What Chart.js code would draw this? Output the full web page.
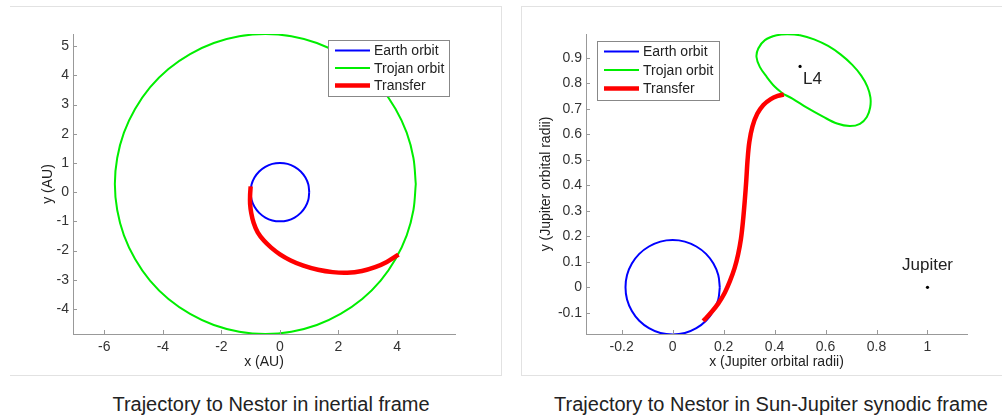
<!DOCTYPE html>
<html lang="en">
<head>
  <meta charset="UTF-8">
  <title>Trajectory to Nestor</title>
  <script src="https://cdn.jsdelivr.net/npm/chart.js"></script>
  <style>
    body {
      margin: 0;
      background: #ffffff;
      font-family: 'Liberation Sans', Arial, sans-serif;
      width: 1002px;
      height: 416px;
      overflow: hidden;
      position: relative;
    }
    .panel {
      position: absolute;
      top: 6px;
      height: 368px;
      border: 1px solid #e2e2e2;
    }
    #leftPanel { left: 10px; width: 491px; border-left: none; }
    #rightPanel { left: 521px; width: 500px; border-right: none; }
    canvas { position: absolute; top: 0; }
    #inertial { left: 0; }
    #synodic { left: 502px; }
    .caption {
      position: absolute;
      top: 392px;
      font-size: 20px;
      line-height: 24px;
      color: #222;
      text-align: center;
      white-space: nowrap;
    }
  </style>
</head>
<body>

<div class="panel" id="leftPanel"></div>
<div class="panel" id="rightPanel"></div>

<canvas id="inertial" width="500" height="376"></canvas>
<canvas id="synodic" width="500" height="376"></canvas>

<div class="caption" style="left:71px; width:400px;">Trajectory to Nestor in inertial frame</div>
<div class="caption" style="left:521px; width:500px;">Trajectory to Nestor in Sun-Jupiter synodic frame</div>

<script>
  // ---- data: inertial frame (AU) ----
  const seriesNames = ['Earth orbit', 'Trojan orbit', 'Transfer'];

  const earthInertial = [
    [1, 0], [0.97, 0.26], [0.87, 0.5], [0.71, 0.71], [0.5, 0.87], [0.26, 0.97], [0, 1],
    [-0.26, 0.97], [-0.5, 0.87], [-0.71, 0.71], [-0.87, 0.5], [-0.97, 0.26], [-1, 0],
    [-0.97, -0.26], [-0.87, -0.5], [-0.71, -0.71], [-0.5, -0.87], [-0.26, -0.97], [0, -1],
    [0.26, -0.97], [0.5, -0.87], [0.71, -0.71], [0.87, -0.5], [0.97, -0.26], [1, 0]
  ];
  const trojanInertial = [
    [4.64, 0.28], [4.56, 1.17], [4.33, 2.04], [3.95, 2.85], [3.44, 3.59], [2.81, 4.22],
    [2.07, 4.73], [1.26, 5.11], [0.39, 5.34], [-0.5, 5.42], [-1.39, 5.34], [-2.26, 5.11],
    [-3.07, 4.73], [-3.81, 4.22], [-4.44, 3.59], [-4.95, 2.85], [-5.33, 2.04], [-5.56, 1.17],
    [-5.64, 0.28], [-5.56, -0.61], [-5.33, -1.48], [-4.95, -2.29], [-4.44, -3.03], [-3.81, -3.66],
    [-3.07, -4.17], [-2.26, -4.55], [-1.39, -4.78], [-0.5, -4.86], [0.39, -4.78], [1.26, -4.55],
    [2.07, -4.17], [2.81, -3.66], [3.44, -3.03], [3.95, -2.29], [4.33, -1.48], [4.56, -0.61], [4.64, 0.28]
  ];
  const transferInertial = [
    [-1.0, 0.2], [-1.02, -0.1], [-1.02, -0.4], [-0.98, -0.72], [-0.9, -1.05], [-0.76, -1.38],
    [-0.55, -1.66], [-0.3, -1.9], [0.0, -2.13], [0.35, -2.33], [0.8, -2.52], [1.3, -2.66],
    [1.8, -2.74], [2.3, -2.76], [2.8, -2.7], [3.25, -2.57], [3.65, -2.39], [4.05, -2.14]
  ];
  const inertialXTicks = [-6, -4, -2, 0, 2, 4];
  const inertialYTicks = [-4, -3, -2, -1, 0, 1, 2, 3, 4, 5];

  // ---- data: Sun-Jupiter synodic frame (Jupiter orbital radii) ----
  const earthSynodic = [
    [0.185, 0], [0.179, 0.048], [0.16, 0.093], [0.131, 0.131], [0.093, 0.16], [0.048, 0.179], [0, 0.185],
    [-0.048, 0.179], [-0.093, 0.16], [-0.131, 0.131], [-0.16, 0.093], [-0.179, 0.048], [-0.185, 0],
    [-0.179, -0.048], [-0.16, -0.093], [-0.131, -0.131], [-0.093, -0.16], [-0.048, -0.179], [0, -0.185],
    [0.048, -0.179], [0.093, -0.16], [0.131, -0.131], [0.16, -0.093], [0.179, -0.048], [0.185, 0]
  ];
  const trojanSynodic = [
    [0.434, 0.758], [0.47, 0.74], [0.525, 0.705], [0.59, 0.669], [0.645, 0.642], [0.695, 0.632],
    [0.735, 0.641], [0.762, 0.668], [0.775, 0.705], [0.776, 0.745], [0.764, 0.787], [0.74, 0.83],
    [0.705, 0.872], [0.66, 0.912], [0.61, 0.946], [0.555, 0.972], [0.5, 0.988], [0.45, 0.992],
    [0.408, 0.988], [0.362, 0.969], [0.336, 0.936], [0.329, 0.903], [0.342, 0.864], [0.369, 0.825],
    [0.401, 0.786], [0.434, 0.758]
  ];
  const transferSynodic = [
    [0.12, -0.132], [0.15, -0.1], [0.18, -0.062], [0.205, -0.02], [0.225, 0.025], [0.243, 0.075],
    [0.257, 0.13], [0.268, 0.19], [0.276, 0.26], [0.283, 0.34], [0.289, 0.42], [0.294, 0.5],
    [0.301, 0.57], [0.313, 0.63], [0.332, 0.68], [0.356, 0.715], [0.385, 0.738], [0.412, 0.75],
    [0.436, 0.756]
  ];
  const markerNames = ['L4', 'Jupiter'];
  const markerX = [0.5, 1];
  const markerY = [0.866, 0];
  const synodicXTicks = [-0.2, 0, 0.2, 0.4, 0.6, 0.8, 1];
  const synodicYTicks = [-0.1, 0, 0.1, 0.2, 0.3, 0.4, 0.5, 0.6, 0.7, 0.8, 0.9];

  Chart.defaults.font.family = "'Liberation Sans', Arial, sans-serif";
  Chart.defaults.font.size = 14;
  Chart.defaults.color = '#333';

  const colors = ['#0000ff', '#00ee00', '#ff0000'];
  const widths = [2, 2, 4.5];
  const axisColor = '#999';

  const toPts = arr => arr.map(p => ({ x: p[0], y: p[1] }));

  function orbitSets(earth, trojan, transfer) {
    return [earth, trojan, transfer].map((d, i) => ({
      label: seriesNames[i],
      data: toPts(d),
      showLine: true,
      borderColor: colors[i],
      borderWidth: widths[i],
      pointRadius: 0,
      tension: 0.35,
      order: [3, 2, 1][i]
    }));
  }

  // MATLAB style legend box inside the axes
  function legendPlugin(box) {
    return {
      id: 'boxLegend',
      afterDraw(chart) {
        const ctx = chart.ctx;
        ctx.save();
        ctx.fillStyle = '#fff';
        ctx.fillRect(box.x, box.y, box.w, box.h);
        ctx.strokeStyle = '#888';
        ctx.lineWidth = 1;
        ctx.strokeRect(box.x + 0.5, box.y + 0.5, box.w, box.h);
        ctx.font = "14px 'Liberation Sans', Arial, sans-serif";
        ctx.textBaseline = 'middle';
        seriesNames.forEach((name, i) => {
          const y = box.y + box.row0 + i * box.gap;
          ctx.strokeStyle = colors[i];
          ctx.lineWidth = widths[i];
          ctx.beginPath();
          ctx.moveTo(box.x + 7, y);
          ctx.lineTo(box.x + 42, y);
          ctx.stroke();
          ctx.fillStyle = '#222';
          ctx.fillText(name, box.x + 46, y + 1);
        });
        ctx.restore();
      }
    };
  }

  // small inward tick marks on the left and bottom axes
  const innerTicks = {
    id: 'innerTicks',
    afterDraw(chart) {
      const ctx = chart.ctx;
      const a = chart.chartArea;
      ctx.save();
      ctx.strokeStyle = axisColor;
      ctx.lineWidth = 1;
      ctx.beginPath();
      chart.scales.x.ticks.forEach(t => {
        const px = Math.round(chart.scales.x.getPixelForValue(t.value)) + 0.5;
        ctx.moveTo(px, a.bottom);
        ctx.lineTo(px, a.bottom - 4);
      });
      chart.scales.y.ticks.forEach(t => {
        const py = Math.round(chart.scales.y.getPixelForValue(t.value)) + 0.5;
        ctx.moveTo(a.left, py);
        ctx.lineTo(a.left + 4, py);
      });
      ctx.stroke();
      ctx.restore();
    }
  };

  const markerLabels = {
    id: 'markerLabels',
    afterDraw(chart) {
      const ctx = chart.ctx;
      ctx.save();
      ctx.font = "17px 'Liberation Sans', Arial, sans-serif";
      ctx.fillStyle = '#222';
      ctx.textBaseline = 'middle';
      markerNames.forEach((name, i) => {
        const px = chart.scales.x.getPixelForValue(markerX[i]);
        const py = chart.scales.y.getPixelForValue(markerY[i]);
        if (name === 'L4') {
          ctx.textAlign = 'left';
          ctx.fillText(name, px + 3, py + 13);
        } else {
          ctx.textAlign = 'center';
          ctx.fillText(name, px, py - 22);
        }
      });
      ctx.restore();
    }
  };

  function axes(xMin, xMax, yMin, yMax, xTicks, yTicks, xTitle, yTitle, yWidth, yTitlePad) {
    return {
      x: {
        type: 'linear', min: xMin, max: xMax,
        afterBuildTicks: s => { s.ticks = xTicks.map(v => ({ value: v })); },
        afterFit: s => { s.height = 42; },
        ticks: { autoSkip: false, padding: 5, color: '#333', callback: v => String(v) },
        grid: { display: false, drawTicks: false },
        border: { display: true, color: axisColor, width: 1 },
        title: { display: true, text: xTitle, color: '#222', padding: { top: 0, bottom: 5 } }
      },
      y: {
        type: 'linear', min: yMin, max: yMax,
        afterBuildTicks: s => { s.ticks = yTicks.map(v => ({ value: v })); },
        afterFit: s => { s.width = yWidth; },
        ticks: { autoSkip: false, padding: 4, color: '#333', callback: v => String(v) },
        grid: { display: false, drawTicks: false },
        border: { display: true, color: axisColor, width: 1 },
        title: { display: true, text: yTitle, color: '#222', padding: { top: yTitlePad, bottom: 0 } }
      }
    };
  }

  new Chart(document.getElementById('inertial'), {
    type: 'scatter',
    data: { datasets: orbitSets(earthInertial, trojanInertial, transferInertial) },
    options: {
      responsive: false,
      animation: false,
      layout: { padding: { left: 0, top: 34, right: 45, bottom: 0 } },
      scales: axes(-7.07, 5.98, -4.86, 5.42, inertialXTicks, inertialYTicks, 'x (AU)', 'y (AU)', 73, 40),
      plugins: { legend: { display: false }, tooltip: { enabled: false } }
    },
    plugins: [innerTicks, legendPlugin({ x: 328, y: 40, w: 121, h: 56, row0: 10.5, gap: 17.5 })]
  });

  const synodicSets = orbitSets(earthSynodic, trojanSynodic, transferSynodic);
  synodicSets.push({
    label: 'markers',
    data: markerX.map((x, i) => ({ x: x, y: markerY[i] })),
    showLine: false,
    pointRadius: 1.6,
    pointBackgroundColor: '#000',
    pointBorderWidth: 0,
    order: 0
  });

  new Chart(document.getElementById('synodic'), {
    type: 'scatter',
    data: { datasets: synodicSets },
    options: {
      responsive: false,
      animation: false,
      layout: { padding: { left: 0, top: 34, right: 35, bottom: 0 } },
      scales: axes(-0.34, 1.155, -0.183, 0.993, synodicXTicks, synodicYTicks,
        'x (Jupiter orbital radii)', 'y (Jupiter orbital radii)', 84, 36),
      plugins: { legend: { display: false }, tooltip: { enabled: false } }
    },
    plugins: [innerTicks, markerLabels, legendPlugin({ x: 95, y: 41, w: 122, h: 59, row0: 10.5, gap: 18.5 })]
  });
</script>

</body>
</html>
